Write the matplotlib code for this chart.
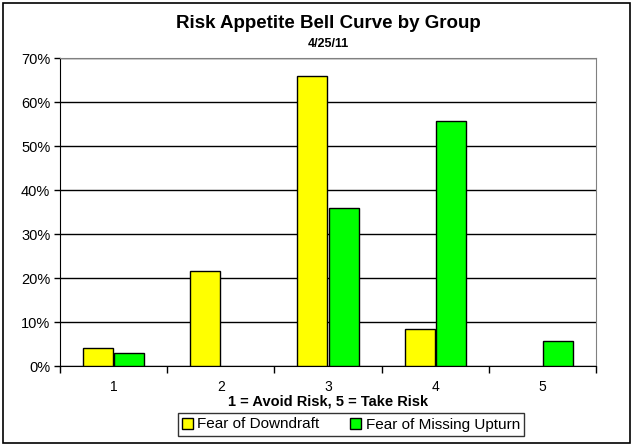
import matplotlib.pyplot as plt
import numpy as np
from matplotlib.patches import Rectangle

plt.rcParams['font.family'] = ['Liberation Sans', 'DejaVu Sans']

categories = ["1", "2", "3", "4", "5"]
downdraft = [4.2, 21.6, 65.8, 8.3, 0.0]
missing_upturn = [2.9, 0.0, 35.9, 55.7, 5.6]
yticks = [0, 10, 20, 30, 40, 50, 60, 70]

W, H = 632, 446
fig = plt.figure(figsize=(W / 100, H / 100), dpi=100)
fig.patch.set_facecolor("white")

# outer chart border
fig.patches.append(Rectangle((3 / W, 3 / H), 627 / W, 440 / H, transform=fig.transFigure,
                             fill=False, edgecolor="black", linewidth=1.2))

ax = fig.add_axes([60 / W, 1 - 366 / H, 536 / W, 308 / H])
x = np.arange(len(categories))
bw = 0.28
# no outline on empty bars
lw_d = [1 if v > 0 else 0 for v in downdraft]
lw_m = [1 if v > 0 else 0 for v in missing_upturn]
ax.bar(x - bw / 2 - 0.005, downdraft, bw, color="#ffff00", edgecolor="black", linewidth=lw_d, zorder=3,
       label="Fear of Downdraft")
ax.bar(x + bw / 2 + 0.005, missing_upturn, bw, color="#00ff00", edgecolor="black", linewidth=lw_m, zorder=3,
       label="Fear of Missing Upturn")

ax.set_xlim(-0.5, len(categories) - 0.5)
ax.set_ylim(0, 70)
ax.set_yticks(yticks)
ax.set_yticklabels([f"{v}%" for v in yticks], fontsize=10.5)
ax.yaxis.grid(True, color="black", linewidth=1, zorder=0)
ax.set_axisbelow(True)

ax.set_xticks(np.arange(-0.5, len(categories), 1))
ax.set_xticklabels([])
ax.set_xticks(x, minor=True)
ax.set_xticklabels(categories, minor=True, fontsize=10)
ax.tick_params(axis="x", which="major", length=5, width=1, direction="out")
ax.tick_params(axis="x", which="minor", length=0, pad=10)
ax.tick_params(axis="y", length=4, width=1, direction="out", pad=3)

for s in ["top", "right"]:
    ax.spines[s].set_color("#808080")
for s in ["left", "bottom"]:
    ax.spines[s].set_color("black")

fig.text(328 / W, 1 - 402 / H, "1 = Avoid Risk, 5 = Take Risk", ha="center", va="center",
         fontsize=10.5, fontweight="bold")

fig.text(328 / W, 1 - 23 / H, "Risk Appetite Bell Curve by Group", ha="center", va="center",
         fontsize=13.5, fontweight="bold")
fig.text(328 / W, 1 - 44 / H, "4/25/11", ha="center", va="center", fontsize=9, fontweight="bold")

leg = fig.legend(loc="center", bbox_to_anchor=(351 / W, 1 - 424.5 / H), ncol=2, fontsize=11,
                 frameon=True, fancybox=False, edgecolor="black", handlelength=0.7, handleheight=0.7,
                 handletextpad=0.3, columnspacing=2.0, borderpad=0.3)
leg.get_frame().set_linewidth(1)

fig.savefig("out.png", dpi=100)
